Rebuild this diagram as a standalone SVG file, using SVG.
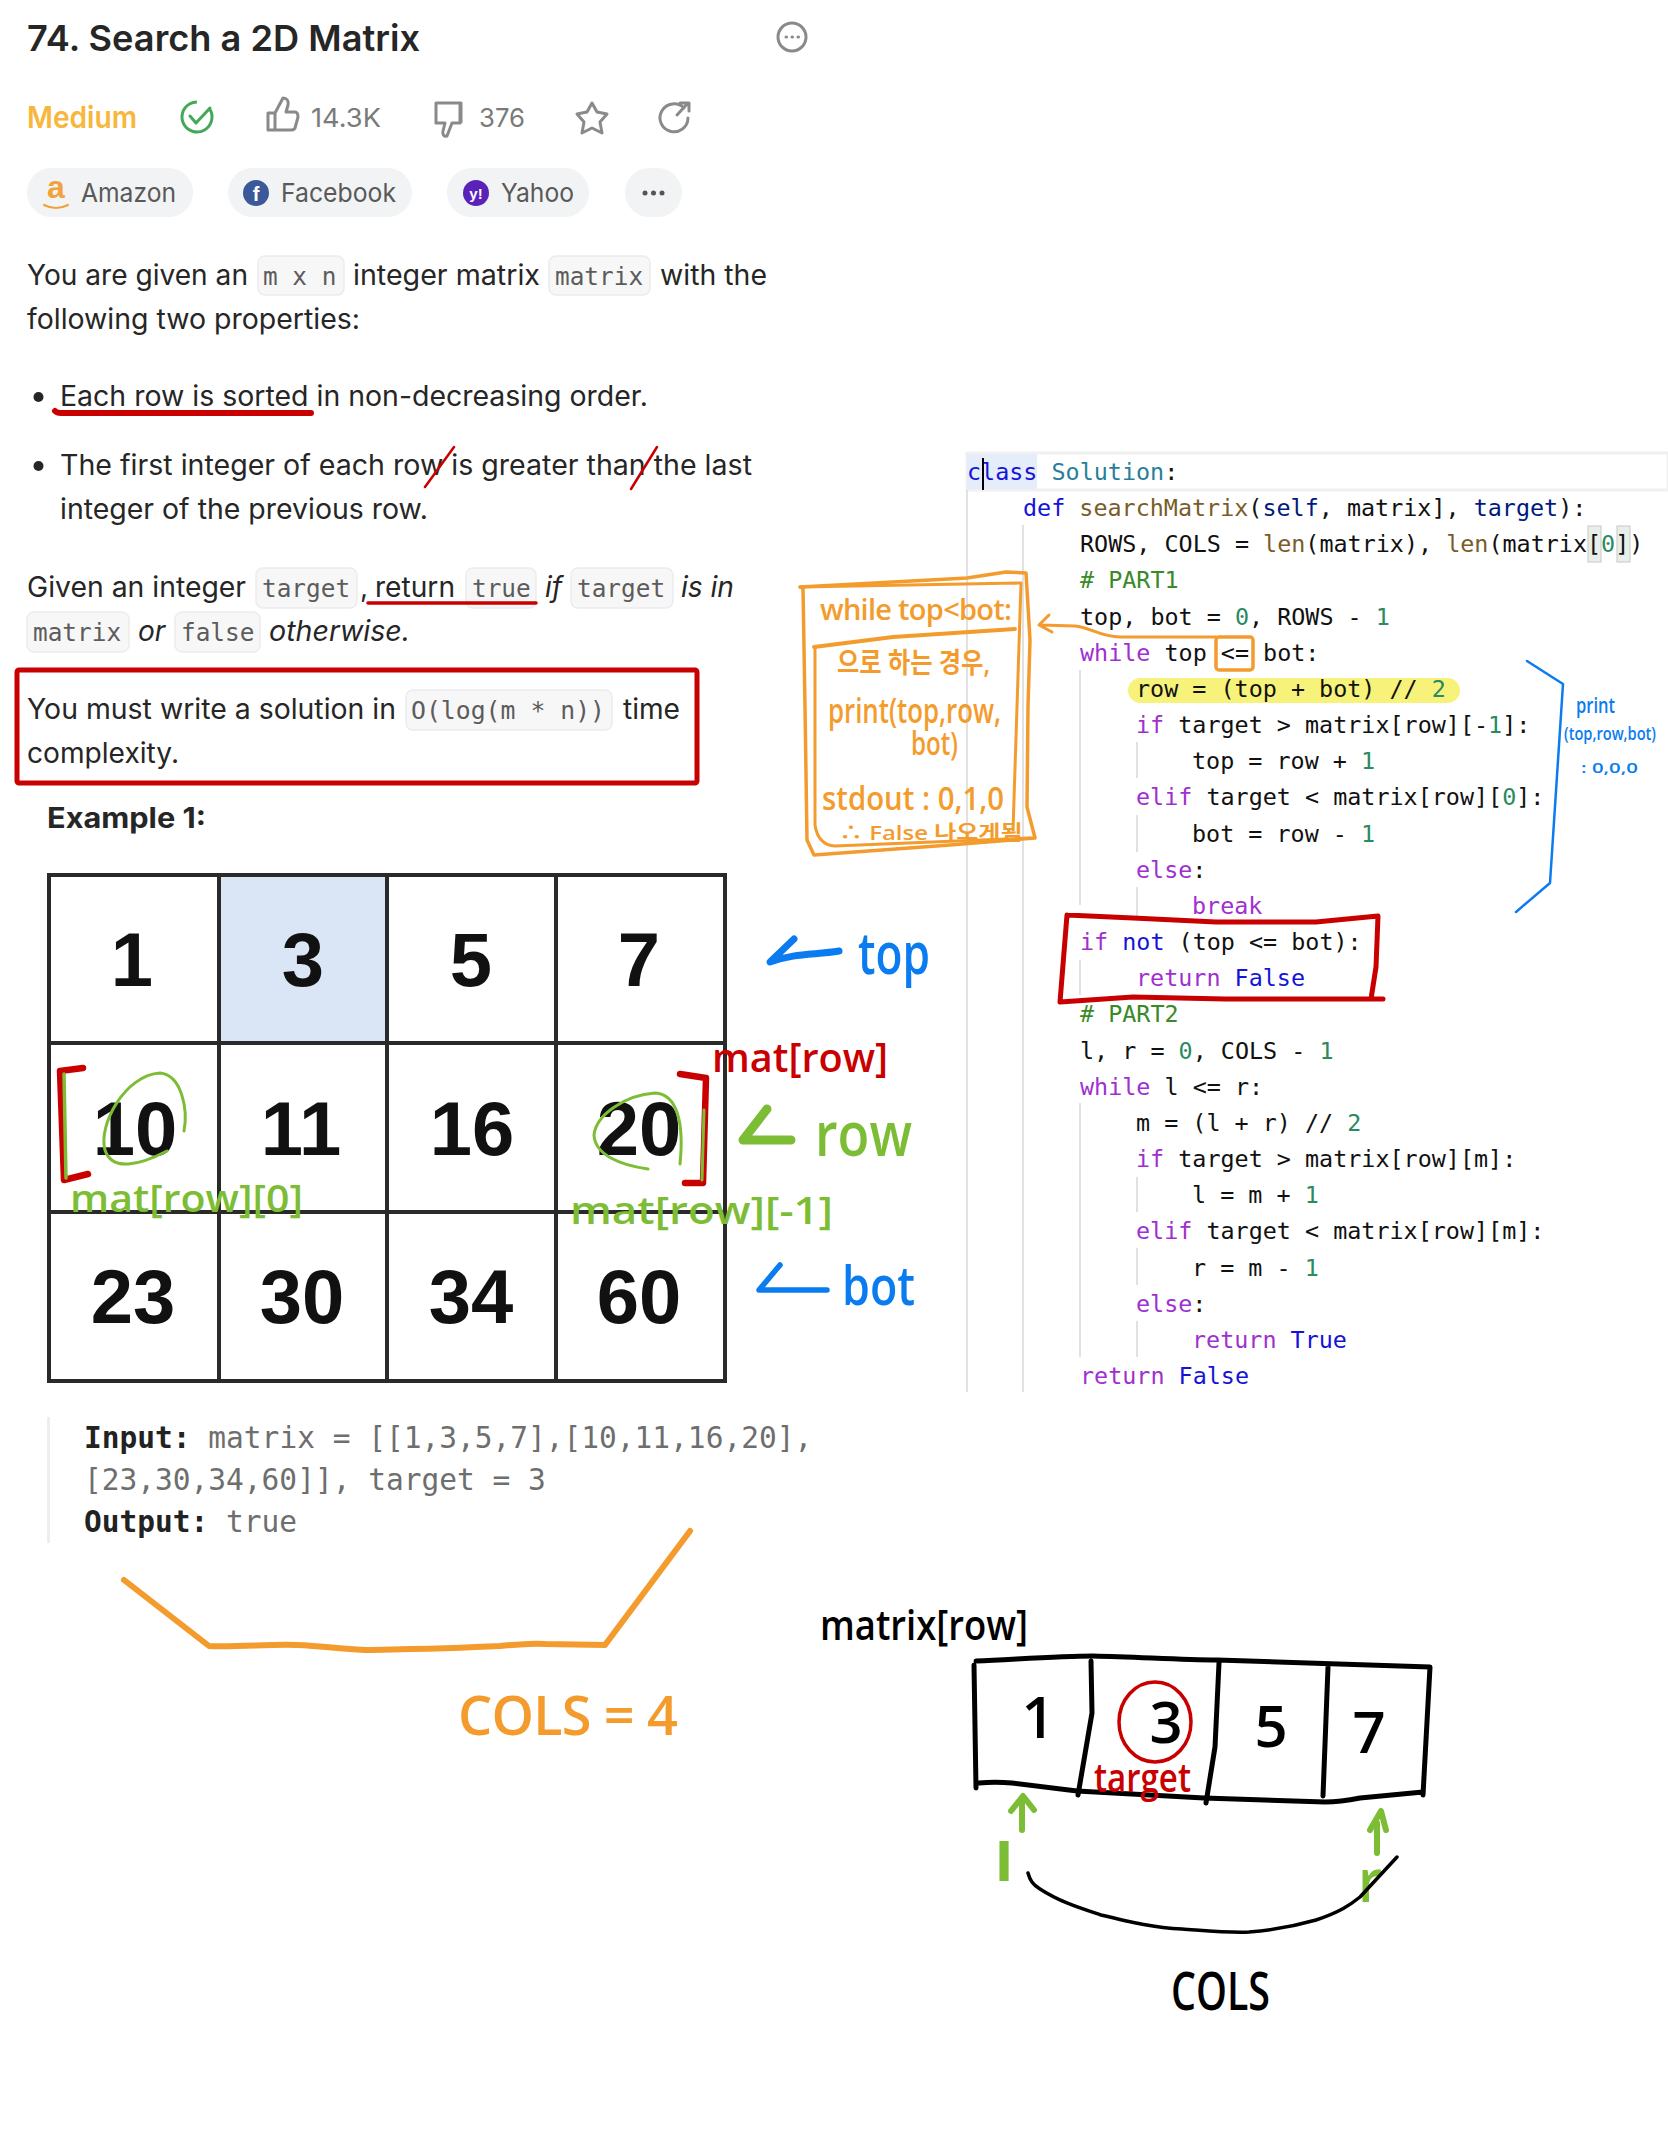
<svg xmlns="http://www.w3.org/2000/svg" width="1668" height="2154" viewBox="0 0 1668 2154">
<style>
text{white-space:pre}
.b{font-family:"Inter","Liberation Sans",sans-serif;font-size:28px;fill:#262626}
.i{font-style:italic}
.ic{font-family:"DejaVu Sans Mono","Liberation Mono",monospace;font-size:24.4px;fill:#5c5c5c}
.box{fill:#f7f7f8;stroke:#ececee;stroke-width:1.5}
.pill{fill:#f2f3f4}
.pt{font-family:"Inter","Liberation Sans",sans-serif;font-size:26px;fill:#595959}
.gi{fill:none;stroke:#8a8a8a;stroke-width:3;stroke-linejoin:round;stroke-linecap:round}
.c{font-family:"DejaVu Sans Mono","Liberation Mono",monospace;font-size:23.4px;fill:#111}
.k{fill:#a030d0}.u{fill:#1414d8}.n{fill:#2a8a60}.f{fill:#7a5c28}.t{fill:#267f99}.v{fill:#001a80}.g{fill:#3a8a28}
.gd{stroke:#d8d8d8;stroke-width:1.5;fill:none}
.m{font-family:"DejaVu Sans Mono","Liberation Mono",monospace;font-size:29.5px;fill:#6e6e6e}
.mb{font-weight:700;fill:#222}
.d{font-family:"Liberation Sans",Arial,sans-serif;font-weight:700;font-size:76px;fill:#111;text-anchor:middle}
.cell{fill:none;stroke:#2a2a2a;stroke-width:4}
.h{font-family:"Open Sans","Noto Sans CJK KR",sans-serif;font-weight:600}
.or{fill:#f39c2d}.bl{fill:#0a7cf0}.gr{fill:#7dbd36}.rd{fill:#c90000}.bk{fill:#000}
.so,.sb,.sg,.sr,.sk{fill:none;stroke-linecap:round;stroke-linejoin:round}
.so{stroke:#f39c2d}.sb{stroke:#0a7cf0}.sg{stroke:#7dbd36}.sr{stroke:#c90000}.sk{stroke:#000}
</style>
<rect width="1668" height="2154" fill="#fff"/>

<g id="header">
<text x="27" y="51" font-family="Inter,'Liberation Sans',sans-serif" font-size="36" font-weight="600" fill="#262626" textLength="393" lengthAdjust="spacingAndGlyphs">74. Search a 2D Matrix</text>
<g class="gi"><circle cx="792" cy="37" r="14"/><path d="M786 37h.5M792 37h.5M798 37h.5"/></g>
<text x="27" y="128" font-family="Inter,'Liberation Sans',sans-serif" font-size="30" font-weight="600" fill="#f6b73c" textLength="110" lengthAdjust="spacingAndGlyphs">Medium</text>
<circle cx="197" cy="117" r="15" fill="none" stroke="#43a857" stroke-width="3" stroke-dasharray="78 16" transform="rotate(-30 197 117)"/>
<path d="M190 116l6 7 14-15" fill="none" stroke="#43a857" stroke-width="3" stroke-linecap="round" stroke-linejoin="round"/>
<path class="gi" d="M268 113h7v17h-7zM275 113l8-15c4 0 6 3 5 7l-2 7h9c3 0 3 3 3 5l-3 11c-1 2-2 2-4 2h-16"/>
<text x="311" y="127" class="pt" style="fill:#7a7a7a" textLength="70" lengthAdjust="spacingAndGlyphs">14.3K</text>
<path class="gi" d="M436 103h24v20h-8l-5 13c-3 1-5-2-4-5l2-8h-9z M453 103h8v19"/>
<text x="479" y="127" class="pt" style="fill:#7a7a7a" textLength="46" lengthAdjust="spacingAndGlyphs">376</text>
<path class="gi" d="M592 103l5 9 10 2-7 8 2 11-10-5-10 5 2-11-7-8 10-2z"/>
<path class="gi" d="M684 108a14 14 0 1 0 4 10M677 115l11-12M680 103h9v8"/>
</g>

<g id="tags">
<rect class="pill" x="27" y="168" width="166" height="49" rx="24.5"/>
<text x="47" y="198" font-family="'Liberation Sans',sans-serif" font-size="32" font-weight="700" fill="#f2a23c">a</text>
<path d="M44 205q12 6 24 0" fill="none" stroke="#f2a23c" stroke-width="2.2" stroke-linecap="round"/>
<text x="81" y="202" class="pt" textLength="95" lengthAdjust="spacingAndGlyphs">Amazon</text>
<rect class="pill" x="228" y="168" width="184" height="49" rx="24.5"/>
<circle cx="256" cy="193" r="13" fill="#3b5998"/>
<text x="256" y="201" font-family="'Liberation Sans',sans-serif" font-size="20" font-weight="700" fill="#fff" text-anchor="middle">f</text>
<text x="281" y="202" class="pt" textLength="115" lengthAdjust="spacingAndGlyphs">Facebook</text>
<rect class="pill" x="447" y="168" width="142" height="49" rx="24.5"/>
<circle cx="476" cy="193" r="13" fill="#5a22b8"/>
<text x="476" y="199" font-family="'Liberation Sans',sans-serif" font-size="15" font-weight="700" fill="#fff" text-anchor="middle">y!</text>
<text x="501" y="202" class="pt" textLength="73" lengthAdjust="spacingAndGlyphs">Yahoo</text>
<rect class="pill" x="625" y="168" width="57" height="49" rx="24.5"/>
<circle cx="645" cy="193" r="2.5" fill="#555"/><circle cx="653.500" cy="193" r="2.500" fill="#555"/><circle cx="662" cy="193" r="2.500" fill="#555"/>
</g>

<g id="description">
<text class="b" x="27" y="285" textLength="221" lengthAdjust="spacingAndGlyphs">You are given an</text>
<rect class="box" x="258" y="256" width="86" height="39" rx="7"/><text class="ic" x="263" y="285">m x n</text>
<text class="b" x="353" y="285" textLength="187" lengthAdjust="spacingAndGlyphs">integer matrix</text>
<rect class="box" x="549" y="256" width="101" height="39" rx="7"/><text class="ic" x="555" y="285">matrix</text>
<text class="b" x="660" y="285" textLength="107" lengthAdjust="spacingAndGlyphs">with the</text>
<text class="b" x="27" y="329" textLength="333" lengthAdjust="spacingAndGlyphs">following two properties:</text>
<circle cx="38.500" cy="397" r="5" fill="#262626"/>
<text class="b" x="60" y="406" textLength="588" lengthAdjust="spacingAndGlyphs">Each row is sorted in non-decreasing order.</text>
<circle cx="38.500" cy="466" r="5" fill="#262626"/>
<text class="b" x="60" y="475" textLength="692" lengthAdjust="spacingAndGlyphs">The first integer of each row is greater than the last</text>
<text class="b" x="60" y="519" textLength="368" lengthAdjust="spacingAndGlyphs">integer of the previous row.</text>
<text class="b" x="27" y="597" textLength="219" lengthAdjust="spacingAndGlyphs">Given an integer</text>
<rect class="box" x="256" y="568" width="101" height="40" rx="7"/><text class="ic" x="262" y="597">target</text>
<text class="b" x="360" y="597">,</text>
<text class="b" x="375" y="597" textLength="80" lengthAdjust="spacingAndGlyphs">return</text>
<rect class="box" x="466" y="568" width="70" height="40" rx="7"/><text class="ic" x="472" y="597">true</text>
<text class="b i" x="545" y="597">if</text>
<rect class="box" x="571" y="568" width="102" height="40" rx="7"/><text class="ic" x="577" y="597">target</text>
<text class="b i" x="681" y="597" textLength="53" lengthAdjust="spacingAndGlyphs">is in</text>
<rect class="box" x="27" y="612" width="102" height="40" rx="7"/><text class="ic" x="33" y="641">matrix</text>
<text class="b i" x="138" y="641">or</text>
<rect class="box" x="175" y="612" width="85" height="40" rx="7"/><text class="ic" x="181" y="641">false</text>
<text class="b i" x="269" y="641" textLength="141" lengthAdjust="spacingAndGlyphs">otherwise.</text>
<text class="b" x="27" y="719" textLength="369" lengthAdjust="spacingAndGlyphs">You must write a solution in</text>
<rect class="box" x="406" y="690" width="206" height="40" rx="7"/><text class="ic" x="411" y="719" textLength="194" lengthAdjust="spacingAndGlyphs">O(log(m * n))</text>
<text class="b" x="623" y="719" textLength="57" lengthAdjust="spacingAndGlyphs">time</text>
<text class="b" x="27" y="763" textLength="152" lengthAdjust="spacingAndGlyphs">complexity.</text>
<text class="b" x="47" y="828" font-weight="700" textLength="159" lengthAdjust="spacingAndGlyphs">Example 1:</text>
</g>

<g id="desc-marks">
<path class="sr" stroke-width="6" d="M55 411q2 2 6 2l250 0"/>
<path class="sr" stroke-width="2.500" d="M454 447L425 487M657 447L631 489"/>
<path class="sr" stroke-width="3.500" d="M368 603H536"/>
<rect x="17" y="670" width="680" height="113" rx="2" fill="none" stroke="#c90000" stroke-width="5"/>
</g>

<g id="matrix">
<rect x="219" y="875" width="168" height="168" fill="#dae5f6"/>
<path class="cell" d="M49 875H725V1381H49ZM49 1043H725M49 1212H725M219 875V1381M387 875V1381M556 875V1381"/>
<text class="d" x="132" y="986">1</text><text class="d" x="303" y="986">3</text><text class="d" x="471" y="986">5</text><text class="d" x="639" y="986">7</text>
<text class="d" x="135" y="1155">10</text><text class="d" x="301" y="1155">11</text><text class="d" x="472" y="1155">16</text><text class="d" x="639" y="1155">20</text>
<text class="d" x="133" y="1323">23</text><text class="d" x="302" y="1323">30</text><text class="d" x="471" y="1323">34</text><text class="d" x="639" y="1323">60</text>
</g>

<g id="matrix-marks">
<path class="sb" stroke-width="7" d="M839 951C815 955 795 953 770 962L794 939"/>
<text class="h bl" x="858" y="974" font-size="58" font-weight="500" textLength="72" lengthAdjust="spacingAndGlyphs">top</text>
<path class="sg" stroke-width="9" d="M791 1140H743L767 1109"/>
<text class="h gr" x="815" y="1156" font-size="62" font-weight="800" textLength="97" lengthAdjust="spacingAndGlyphs">row</text>
<path class="sb" stroke-width="5.500" d="M827 1290H759L780 1265"/>
<text class="h bl" x="842" y="1305" font-size="54" font-weight="700" textLength="73" lengthAdjust="spacingAndGlyphs">bot</text>
<text class="h rd" x="712" y="1072" font-size="40" font-weight="700" textLength="176" lengthAdjust="spacingAndGlyphs">mat[row]</text>
<path class="sr" stroke-width="6.500" d="M83 1068L60 1071L64 1180L88 1174"/>
<path class="sg" stroke-width="3.500" d="M64 1074L66 1178"/>
<path class="sr" stroke-width="6.500" d="M680 1074L706 1078L703 1183L685 1183"/>
<path class="sg" stroke-width="3" d="M704 1110L702 1180"/>
<path class="sg" stroke-width="3" d="M167 1151C140 1165 112 1172 105 1150C98 1125 125 1075 160 1073C182 1075 188 1110 184 1131"/>
<path class="sg" stroke-width="3" d="M648 1169C620 1165 595 1155 594 1135C596 1115 625 1095 655 1093C678 1094 684 1125 680 1164"/>
<text class="h gr" x="70" y="1212" font-size="38" font-weight="500" textLength="233" lengthAdjust="spacingAndGlyphs">mat[row][0]</text>
<text class="h gr" x="570" y="1224" font-size="38" font-weight="500" textLength="263" lengthAdjust="spacingAndGlyphs">mat[row][-1]</text>
</g>

<g id="example">
<rect x="47" y="1417" width="3" height="126" fill="#eeeeee"/>
<text class="m" x="84" y="1448"><tspan class="mb">Input:</tspan> matrix = [[1,3,5,7],[10,11,16,20],</text>
<text class="m" x="84" y="1490">[23,30,34,60]], target = 3</text>
<text class="m" x="84" y="1532"><tspan class="mb">Output:</tspan> true</text>
</g>

<g id="cols-annotation">
<path class="so" stroke-width="6" d="M124 1580L209 1646C240 1647 270 1644 297 1645C325 1646 350 1650 372 1650C420 1649 480 1647 500 1646C520 1644 535 1643 545 1644L605 1645L690 1531"/>
<text class="h or" x="458" y="1735" font-size="54" font-weight="500" textLength="220">COLS = 4</text>
</g>

<g id="code">
<rect x="967" y="453" width="701" height="37" fill="#fff" stroke="#f0f0f0" stroke-width="3"/>
<rect x="967" y="454" width="70" height="35" fill="#e6edfa"/>
<path class="gd" d="M967 490V1392M1023 525V1392M1080 670V905M1080 960V995M1080 1103V1357M1137 742V778M1137 815V852M1137 887V920M1137 1177V1212M1137 1248V1285M1137 1321V1357"/>
<rect x="1128" y="678" width="332" height="25" rx="12.500" fill="#f6f27a"/>
<rect x="1588" y="526" width="13" height="36" fill="#e8efe8" stroke="#c8c8c8"/><rect x="1617" y="526" width="13" height="36" fill="#e8efe8" stroke="#c8c8c8"/>
<text class="c" x="967" y="480"><tspan class="u">class</tspan> <tspan class="t">Solution</tspan>:</text>
<text class="c" x="1023" y="516"><tspan class="u">def</tspan> <tspan class="f">searchMatrix</tspan>(<tspan class="v">self</tspan>, matrix], <tspan class="v">target</tspan>):</text>
<text class="c" x="1080" y="552">ROWS, COLS = <tspan class="f">len</tspan>(matrix), <tspan class="f">len</tspan>(matrix[<tspan class="n">0</tspan>])</text>
<text class="c" x="1080" y="588"><tspan class="g"># PART1</tspan></text>
<text class="c" x="1080" y="625">top, bot = <tspan class="n">0</tspan>, ROWS - <tspan class="n">1</tspan></text>
<text class="c" x="1080" y="661"><tspan class="k">while</tspan> top &lt;= bot:</text>
<text class="c" x="1136" y="697">row = (top + bot) // <tspan class="n">2</tspan></text>
<text class="c" x="1136" y="733"><tspan class="k">if</tspan> target &gt; matrix[row][-<tspan class="n">1</tspan>]:</text>
<text class="c" x="1192" y="769">top = row + <tspan class="n">1</tspan></text>
<text class="c" x="1136" y="805"><tspan class="k">elif</tspan> target &lt; matrix[row][<tspan class="n">0</tspan>]:</text>
<text class="c" x="1192" y="842">bot = row - <tspan class="n">1</tspan></text>
<text class="c" x="1136" y="878"><tspan class="k">else</tspan>:</text>
<text class="c" x="1192" y="914"><tspan class="k">break</tspan></text>
<text class="c" x="1080" y="950"><tspan class="k">if</tspan> <tspan class="u">not</tspan> (top &lt;= bot):</text>
<text class="c" x="1136" y="986"><tspan class="k">return</tspan> <tspan class="u">False</tspan></text>
<text class="c" x="1080" y="1022"><tspan class="g"># PART2</tspan></text>
<text class="c" x="1080" y="1059">l, r = <tspan class="n">0</tspan>, COLS - <tspan class="n">1</tspan></text>
<text class="c" x="1080" y="1095"><tspan class="k">while</tspan> l &lt;= r:</text>
<text class="c" x="1136" y="1131">m = (l + r) // <tspan class="n">2</tspan></text>
<text class="c" x="1136" y="1167"><tspan class="k">if</tspan> target &gt; matrix[row][m]:</text>
<text class="c" x="1192" y="1203">l = m + <tspan class="n">1</tspan></text>
<text class="c" x="1136" y="1239"><tspan class="k">elif</tspan> target &lt; matrix[row][m]:</text>
<text class="c" x="1192" y="1276">r = m - <tspan class="n">1</tspan></text>
<text class="c" x="1136" y="1312"><tspan class="k">else</tspan>:</text>
<text class="c" x="1192" y="1348"><tspan class="k">return</tspan> <tspan class="u">True</tspan></text>
<text class="c" x="1080" y="1384"><tspan class="k">return</tspan> <tspan class="u">False</tspan></text>
<path d="M983 458V490" stroke="#000" stroke-width="2"/>
</g>

<g id="orange-note">
<path class="so" stroke-width="3.500" d="M800 587L893 582L967 578L1006 572L1026 573L1030 640L1028 707L1027 807L1035 838L950 845L814 855L807 840L805 707L803 588Z"/>
<path class="so" stroke-width="3" d="M800 587L1021 583L1017 707L1013 830M815 647L815 825Q818 845 835 846L1030 838"/>
<path class="so" stroke-width="4" d="M814 647L893 637L1015 629"/>
<text class="h or" x="820" y="620" font-size="29" font-weight="500" textLength="192">while top&lt;bot:</text>
<text class="h or" x="837" y="673" font-size="28" font-weight="500" textLength="153" lengthAdjust="spacingAndGlyphs">으로 하는 경우,</text>
<text class="h or" x="828" y="723" font-size="34" font-weight="500" textLength="173" lengthAdjust="spacingAndGlyphs">print(top,row,</text>
<text class="h or" x="911" y="755" font-size="32" font-weight="500" textLength="47" lengthAdjust="spacingAndGlyphs">bot)</text>
<text class="h or" x="822" y="810" font-size="32" font-weight="500" textLength="182" lengthAdjust="spacingAndGlyphs">stdout : 0,1,0</text>
<text class="h or" x="839" y="840" font-size="20" font-weight="500" textLength="190" lengthAdjust="spacingAndGlyphs">∴ False 나오게됨.</text>
<rect x="1216" y="637" width="37" height="33" rx="3" fill="none" stroke="#f39c2d" stroke-width="3.500"/>
<path class="so" stroke-width="3" d="M1216 637H1120C1100 637 1090 627 1075 626L1040 625M1049 615L1039 625L1052 632"/>
</g>

<g id="code-marks">
<path class="sb" stroke-width="2.500" d="M1527 661L1563 684L1550 883L1516 912"/>
<text class="h bl" x="1576" y="713" font-size="22" font-weight="400" textLength="39" lengthAdjust="spacingAndGlyphs">print</text>
<text class="h bl" x="1564" y="740" font-size="18" font-weight="400" textLength="92" lengthAdjust="spacingAndGlyphs">(top,row,bot)</text>
<text class="h bl" x="1581" y="773" font-size="14" font-weight="400" textLength="57" lengthAdjust="spacingAndGlyphs">: 0,0,0</text>
<path class="sr" stroke-width="5" d="M1067 915L1133 918L1216 922L1316 922L1378 916L1376 967L1371 999M1067 915L1060 1002L1133 997L1225 999L1383 999"/>
</g>

<g id="row-sketch">
<text class="h bk" x="820" y="1640" font-size="42" font-weight="700" textLength="208" lengthAdjust="spacingAndGlyphs">matrix[row]</text>
<path class="sk" stroke-width="5" d="M976 1661C1020 1659 1060 1656 1093 1656C1140 1657 1180 1660 1217 1660L1430 1667L1423 1795M974 1665L976 1788M979 1783C990 1782 1000 1782 1012 1783L1077 1791L1204 1798L1325 1802C1340 1802 1350 1800 1360 1798L1423 1792M1091 1661L1092 1713L1078 1795M1219 1663L1215 1747L1206 1803M1328 1667L1323 1796"/>
<text class="h bk" x="1038" y="1738" font-size="58" text-anchor="middle">1</text>
<text class="h bk" x="1166" y="1743" font-size="58" text-anchor="middle">3</text>
<text class="h bk" x="1271" y="1747" font-size="58" text-anchor="middle">5</text>
<text class="h bk" x="1369" y="1753" font-size="58" text-anchor="middle">7</text>
<ellipse cx="1155" cy="1722" rx="36" ry="40" fill="none" stroke="#c90000" stroke-width="3.500"/>
<text class="h rd" x="1094" y="1792" font-size="40" font-weight="700" textLength="97" lengthAdjust="spacingAndGlyphs">target</text>
<path class="sg" stroke-width="6" d="M1022 1830V1803M1011 1811L1023 1796L1034 1810"/>
<path class="sg" stroke-width="6" d="M1377 1853V1823M1370 1830L1381 1811L1386 1830"/>
<text class="h gr" x="993" y="1881" font-size="52" font-weight="700" textLength="22" lengthAdjust="spacingAndGlyphs">l</text>
<text class="h gr" x="1358" y="1902" font-size="60" font-weight="700" textLength="24" lengthAdjust="spacingAndGlyphs">r</text>
<path class="sk" stroke-width="3.500" d="M1028 1873C1030 1880 1032 1884 1040 1889C1060 1902 1080 1908 1101 1915C1130 1922 1155 1928 1182 1929C1210 1931 1230 1933 1249 1932C1275 1930 1295 1926 1316 1920C1340 1912 1350 1905 1360 1897L1397 1857"/>
<text class="h bk" x="1171" y="2010" font-size="52" font-weight="500" textLength="99" lengthAdjust="spacingAndGlyphs">COLS</text>
</g>
</svg>
